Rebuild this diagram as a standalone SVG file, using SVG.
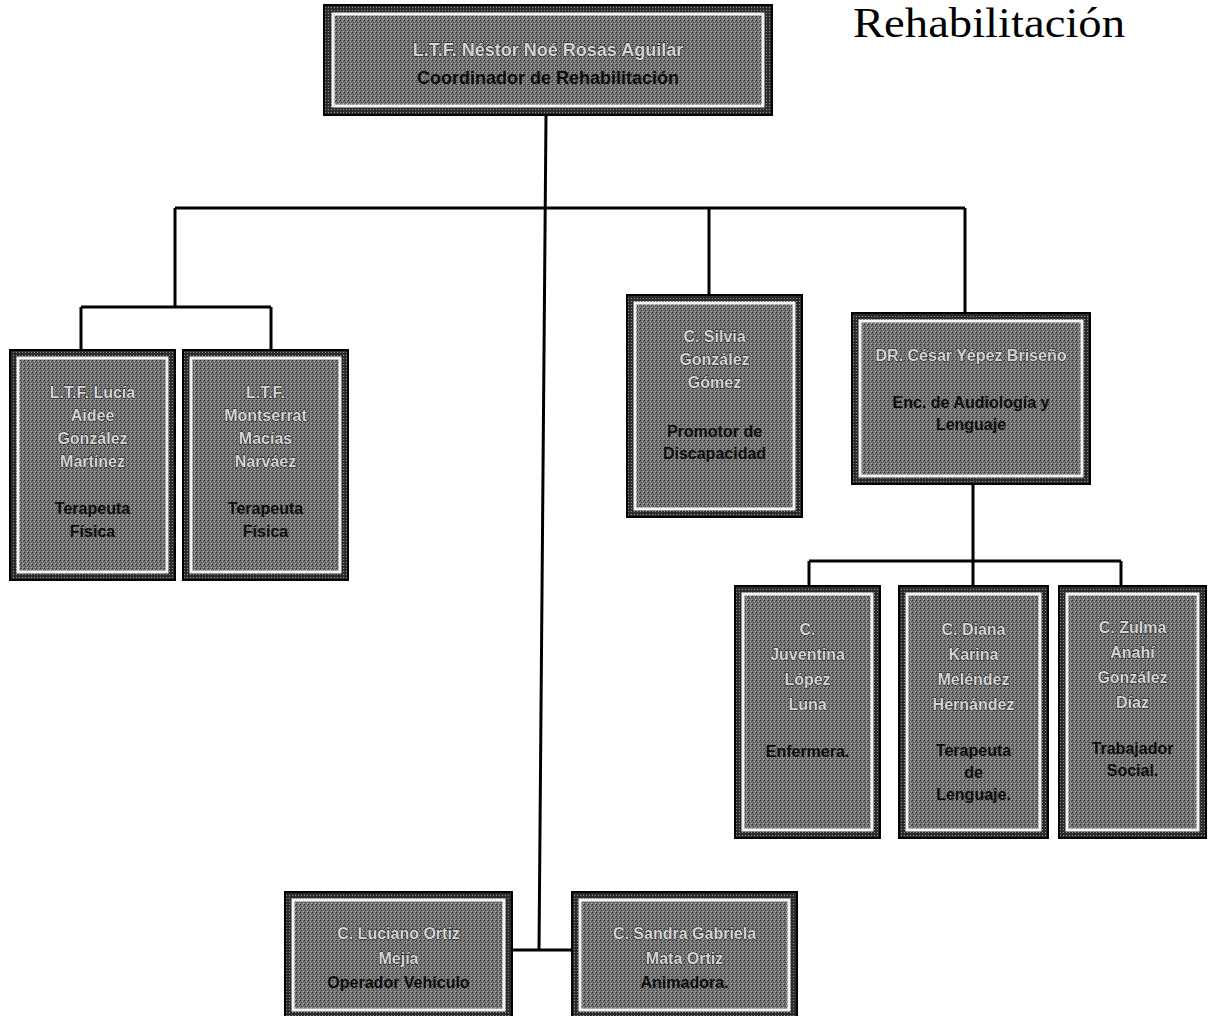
<svg xmlns="http://www.w3.org/2000/svg" width="1208" height="1016" viewBox="0 0 1208 1016">
<defs>
<pattern id="dith" width="4" height="4" patternUnits="userSpaceOnUse">
<rect width="4" height="4" fill="#767676"/>
<rect x="0" y="0" width="1" height="1" fill="#2a2a2a"/>
<rect x="2" y="1" width="1" height="1" fill="#b0b0b0"/>
<rect x="1" y="2" width="1" height="1" fill="#3a3a3a"/>
<rect x="3" y="3" width="1" height="1" fill="#a8a8a8"/>
<rect x="3" y="1" width="1" height="1" fill="#404040"/>
</pattern>
<pattern id="dithd" width="3" height="3" patternUnits="userSpaceOnUse">
<rect width="3" height="3" fill="#2c2c2c"/>
<rect x="1" y="1" width="1" height="1" fill="#909090"/>
</pattern>
</defs>
<style>
.outer{fill:url(#dithd);stroke:#000;stroke-width:2}
.inner{fill:url(#dith);stroke:#f4f4f4;stroke-width:3}
.nm{font-family:"Liberation Sans",Arial,sans-serif;font-size:16px;font-weight:bold;fill:#d4d4d4;stroke:#1a1a1a;stroke-width:1;paint-order:stroke;text-anchor:middle}
.rl{font-family:"Liberation Sans",Arial,sans-serif;font-size:16px;font-weight:bold;fill:#0c0c0c;text-anchor:middle}
.big{font-size:18px}
.conn{stroke:#000;stroke-width:3;fill:none}
.title{font-family:"Liberation Serif","Times New Roman",serif;font-size:42px;fill:#000}
</style>
<rect width="1208" height="1016" fill="#fff"/>
<text class="title" x="853" y="37" textLength="272" lengthAdjust="spacingAndGlyphs">Rehabilitación</text>
<g id="connectors">
<path class="conn" d="M546 115 L539 950"/>
<path class="conn" d="M175 208 H965"/>
<path class="conn" d="M175 208 V307 M81 307 H271 M81 307 V350 M271 307 V350"/>
<path class="conn" d="M709 208 V295"/>
<path class="conn" d="M965 208 V313"/>
<path class="conn" d="M973 484 V561 M809 561 H1121 M809 561 V586 M973 561 V586 M1121 561 V586"/>
<path class="conn" d="M512 950 H572"/>
</g>
<g id="coordinador">
<rect class="outer" x="324" y="5" width="448" height="110"/>
<rect class="inner" x="333" y="14" width="430" height="92"/>
<text class="nm big" x="548" y="56">L.T.F. Néstor Noé Rosas Aguilar</text>
<text class="rl big" x="548" y="84">Coordinador de Rehabilitación</text>
</g>
<g id="lucia">
<rect class="outer" x="10" y="350" width="165" height="230"/>
<rect class="inner" x="18" y="358" width="149" height="214"/>
<text class="nm" x="92.5" y="398">L.T.F. Lucía</text>
<text class="nm" x="92.5" y="421">Aidee</text>
<text class="nm" x="92.5" y="444">González</text>
<text class="nm" x="92.5" y="467">Martínez</text>
<text class="rl" x="92.5" y="514">Terapeuta</text>
<text class="rl" x="92.5" y="537">Física</text>
</g>
<g id="montserrat">
<rect class="outer" x="183" y="350" width="165" height="230"/>
<rect class="inner" x="191" y="358" width="149" height="214"/>
<text class="nm" x="265.5" y="398">L.T.F.</text>
<text class="nm" x="265.5" y="421">Montserrat</text>
<text class="nm" x="265.5" y="444">Macías</text>
<text class="nm" x="265.5" y="467">Narváez</text>
<text class="rl" x="265.5" y="514">Terapeuta</text>
<text class="rl" x="265.5" y="537">Física</text>
</g>
<g id="silvia">
<rect class="outer" x="627" y="295" width="175" height="222"/>
<rect class="inner" x="635" y="303" width="159" height="206"/>
<text class="nm" x="714.5" y="342">C. Silvia</text>
<text class="nm" x="714.5" y="365">González</text>
<text class="nm" x="714.5" y="388">Gómez</text>
<text class="rl" x="714.5" y="437">Promotor de</text>
<text class="rl" x="714.5" y="459">Discapacidad</text>
</g>
<g id="cesar">
<rect class="outer" x="852" y="313" width="238" height="171"/>
<rect class="inner" x="860" y="321" width="222" height="155"/>
<text class="nm" x="971" y="361">DR. César Yépez Briseño</text>
<text class="rl" x="971" y="408">Enc. de Audiología y</text>
<text class="rl" x="971" y="430">Lenguaje</text>
</g>
<g id="juventina">
<rect class="outer" x="735" y="586" width="145" height="252"/>
<rect class="inner" x="743" y="594" width="129" height="236"/>
<text class="nm" x="807.5" y="635">C.</text>
<text class="nm" x="807.5" y="660">Juventina</text>
<text class="nm" x="807.5" y="685">López</text>
<text class="nm" x="807.5" y="710">Luna</text>
<text class="rl" x="807.5" y="757">Enfermera.</text>
</g>
<g id="diana">
<rect class="outer" x="899" y="586" width="149" height="252"/>
<rect class="inner" x="907" y="594" width="133" height="236"/>
<text class="nm" x="973.5" y="635">C. Diana</text>
<text class="nm" x="973.5" y="660">Karina</text>
<text class="nm" x="973.5" y="685">Meléndez</text>
<text class="nm" x="973.5" y="710">Hernández</text>
<text class="rl" x="973.5" y="756">Terapeuta</text>
<text class="rl" x="973.5" y="778">de</text>
<text class="rl" x="973.5" y="800">Lenguaje.</text>
</g>
<g id="zulma">
<rect class="outer" x="1059" y="586" width="147" height="252"/>
<rect class="inner" x="1067" y="594" width="131" height="236"/>
<text class="nm" x="1132.5" y="633">C. Zulma</text>
<text class="nm" x="1132.5" y="658">Anahí</text>
<text class="nm" x="1132.5" y="683">González</text>
<text class="nm" x="1132.5" y="708">Díaz</text>
<text class="rl" x="1132.5" y="754">Trabajador</text>
<text class="rl" x="1132.5" y="776">Social.</text>
</g>
<g id="luciano">
<rect class="outer" x="285" y="892" width="227" height="128"/>
<rect class="inner" x="293" y="900" width="211" height="110"/>
<text class="nm" x="398.5" y="939">C. Luciano Ortiz</text>
<text class="nm" x="398.5" y="964">Mejía</text>
<text class="rl" x="398.5" y="988">Operador Vehículo</text>
</g>
<g id="sandra">
<rect class="outer" x="572" y="892" width="225" height="128"/>
<rect class="inner" x="580" y="900" width="209" height="110"/>
<text class="nm" x="684.5" y="939">C. Sandra Gabriela</text>
<text class="nm" x="684.5" y="964">Mata Ortiz</text>
<text class="rl" x="684.5" y="988">Animadora.</text>
</g>
</svg>
